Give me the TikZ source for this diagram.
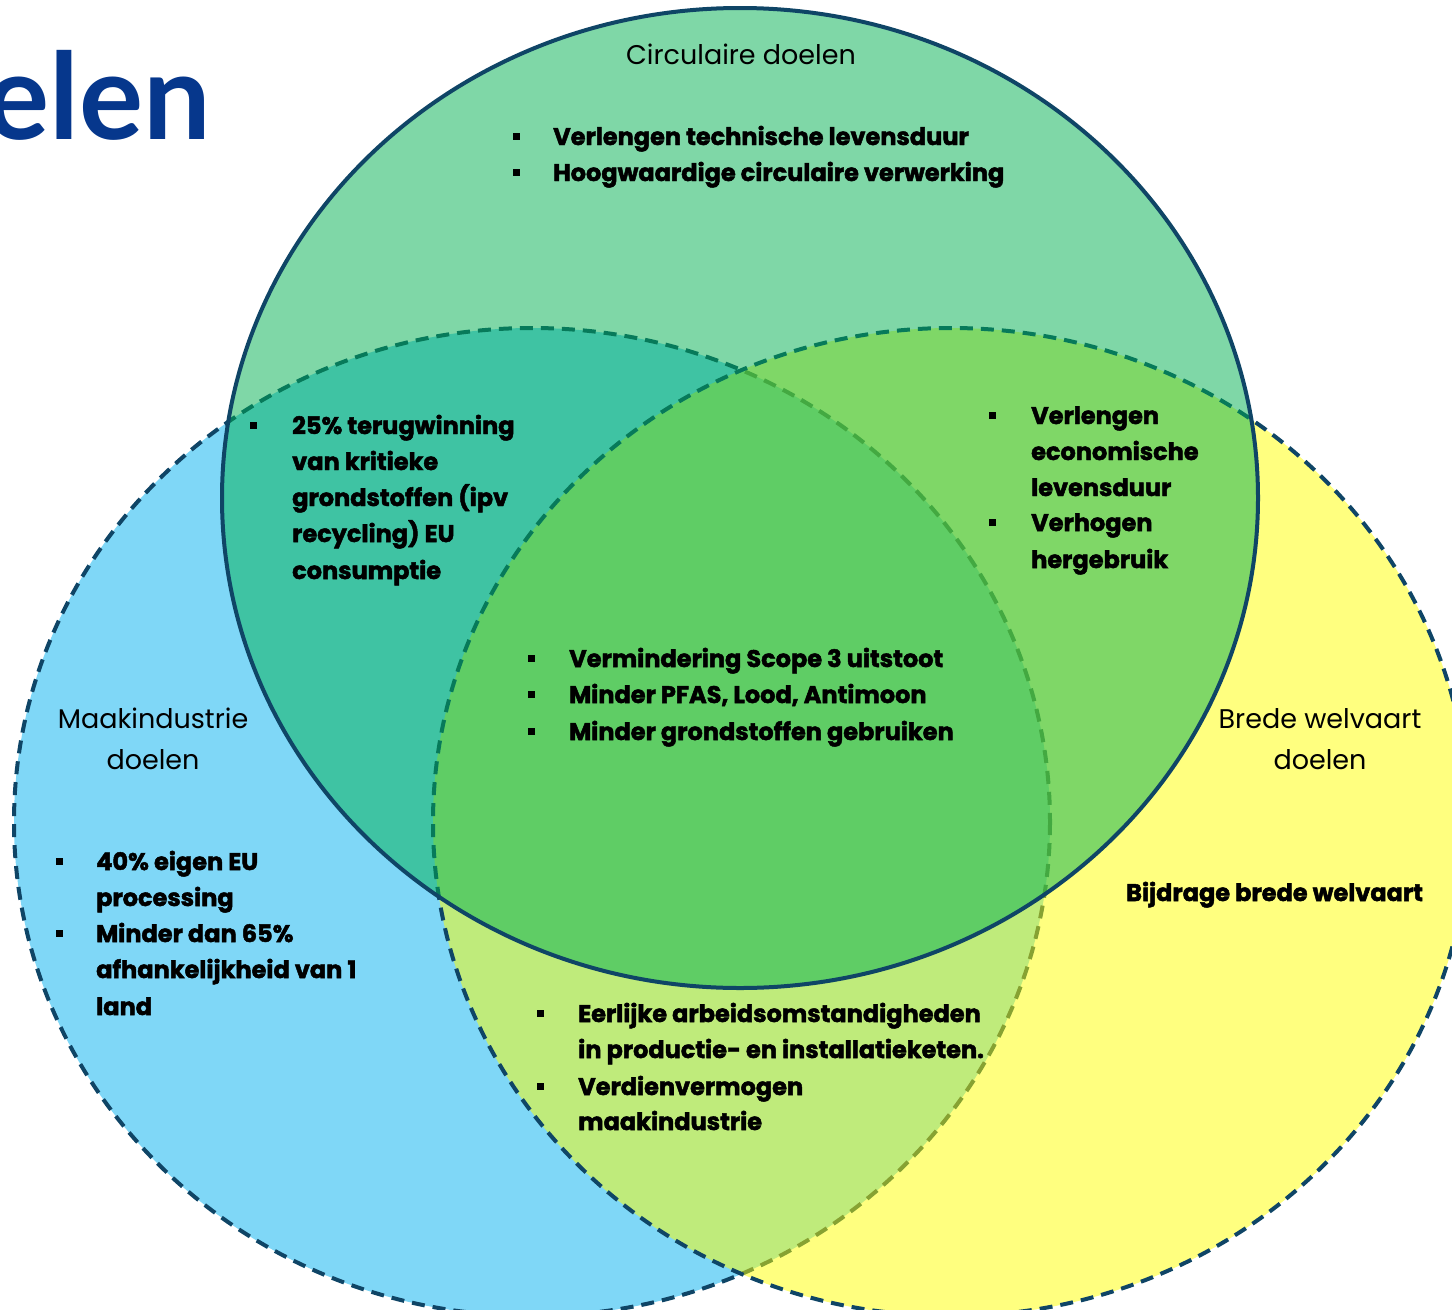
\documentclass[tikz,border=0pt]{standalone}
\usepackage{fontspec}
\setmainfont{Poppins}
\newfontfamily\heavy{Poppins}[BoldFeatures={FakeBold=2}]
\newfontfamily\titlefont{Lato}
\definecolor{vblue}{HTML}{00B0F0}
\definecolor{vyellow}{HTML}{FFFF00}
\definecolor{vgreen}{HTML}{00B050}
\definecolor{vline}{HTML}{0F4566}
\definecolor{titleblue}{HTML}{06378C}
\tikzset{
  vdash/.style={draw=vline, line width=4pt, dash pattern=on 13pt off 8pt, fill opacity=0.5},
  vsolid/.style={draw=vline, line width=4pt, fill opacity=0.5},
  bul/.style={rectangle, fill=black, minimum size=7pt, inner sep=0pt},
  bt/.style={anchor=base west, inner sep=0pt, font=\heavy\bfseries\fontsize{24}{28}\selectfont},
  lab/.style={anchor=base, inner sep=0pt, font=\fontsize{27}{30}\selectfont},
}
\begin{document}
\begin{tikzpicture}[x=1pt,y=-1pt]
\clip (0,0) rectangle (1452,1310);
\fill[white] (0,0) rectangle (1452,1310);
% circles
\draw[vdash, fill=vblue] (532,822) ellipse [x radius=518, y radius=494];
\draw[vdash, fill=vyellow] (951,822) ellipse [x radius=518, y radius=494];
\draw[vsolid, fill=vgreen] (740,498) ellipse [x radius=518, y radius=490];
% title
\node[anchor=base east, inner sep=0pt, text=titleblue, font=\titlefont\bfseries\fontsize{120}{120}\selectfont] (ttl) at (211,139) {elen};
% labels
\node[lab] (lc) at (741,64) {Circulaire doelen};
\node[lab] (lm1) at (153,728) {Maakindustrie};
\node[lab] (lm2) at (153,769) {doelen};
\node[lab] (lb1) at (1320,728) {Brede welvaart};
\node[lab] (lb2) at (1320,769) {doelen};
% top
\node[bul] (b1) at (516,136) {};
\node[bt] (t1) at (553,145) {Verlengen technische levensduur};
\node[bul] (b2) at (516,172) {};
\node[bt] (t2) at (553,181) {Hoogwaardige circulaire verwerking};
% top-left
\node[bul] (b3) at (253,425) {};
\node[bt] (t3a) at (292,434) {25\% terugwinning};
\node[bt] (t3b) at (292,470) {van kritieke};
\node[bt] (t3c) at (292,506) {grondstoffen (ipv};
\node[bt] (t3d) at (292,542) {recycling) EU};
\node[bt] (t3e) at (292,579) {consumptie};
% top-right
\node[bul] (b4) at (992,415) {};
\node[bt] (t4a) at (1031,424) {Verlengen};
\node[bt] (t4b) at (1031,460) {economische};
\node[bt] (t4c) at (1031,496) {levensduur};
\node[bul] (b5) at (992,522) {};
\node[bt] (t5a) at (1031,531) {Verhogen};
\node[bt] (t5b) at (1031,568) {hergebruik};
% centre
\node[bul] (b6) at (531,658) {};
\node[bt] (t6) at (569,667) {Vermindering Scope 3 uitstoot};
\node[bul] (b7) at (531,694) {};
\node[bt] (t7) at (569,703) {Minder PFAS, Lood, Antimoon};
\node[bul] (b8) at (531,731) {};
\node[bt] (t8) at (569,740) {Minder grondstoffen gebruiken};
% left
\node[bul] (b9) at (59,861) {};
\node[bt] (t9a) at (96,870) {40\% eigen EU};
\node[bt] (t9b) at (96,906) {processing};
\node[bul] (b10) at (59,933) {};
\node[bt] (t10a) at (96,942) {Minder dan 65\%};
\node[bt] (t10b) at (96,978) {afhankelijkheid van 1};
\node[bt] (t10c) at (96,1015) {land};
% right
\node[bt] (t11) at (1126,901) {Bijdrage brede welvaart};
% bottom
\node[bul] (b12) at (540,1013) {};
\node[bt] (t12a) at (578,1022) {Eerlijke arbeidsomstandigheden};
\node[bt] (t12b) at (578,1058) {in productie- en installatieketen.};
\node[bul] (b13) at (540,1086) {};
\node[bt] (t13a) at (578,1095) {Verdienvermogen};
\node[bt] (t13b) at (578,1130) {maakindustrie};
\end{tikzpicture}
\end{document}
